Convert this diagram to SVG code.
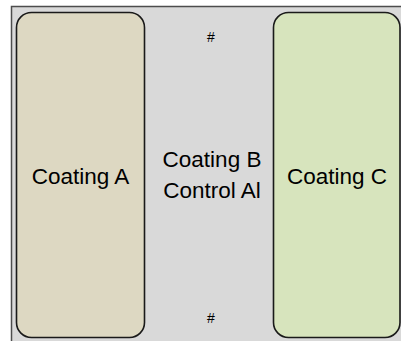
<svg xmlns="http://www.w3.org/2000/svg" width="401" height="341" viewBox="0 0 401 341">
  <style>
    .panel { stroke: #1a1a1a; stroke-width: 1.6; }
    .label { font-family: "Liberation Sans", Arial, sans-serif; font-size: 22.5px; fill: #000; text-anchor: middle; }
    .mark { font-family: "Liberation Sans", Arial, sans-serif; font-size: 14px; fill: #000; text-anchor: middle; }
  </style>
  <rect width="401" height="341" fill="#ffffff"/>
  <!-- sample plate background -->
  <g id="plate">
    <rect x="11.5" y="6.5" width="400" height="340" fill="#d9d9d9" stroke="#4d4d4d" stroke-width="1.5"/>
  </g>
  <g id="coating-a">
    <rect class="panel" x="16.5" y="12.5" width="128" height="325" rx="15" fill="#ddd8c2"/>
    <text class="label" x="80.5" y="184">Coating A</text>
  </g>
  <g id="coating-b">
    <text class="label" x="212" y="167">Coating B</text>
    <text class="label" x="212" y="198">Control Al</text>
    <text class="mark" x="211" y="42">#</text>
    <text class="mark" x="211" y="323">#</text>
  </g>
  <g id="coating-c">
    <rect class="panel" x="273.5" y="12.5" width="126.5" height="325" rx="15" fill="#d7e4bd"/>
    <text class="label" x="337" y="184">Coating C</text>
  </g>
  <g id="connectors"/>
</svg>
